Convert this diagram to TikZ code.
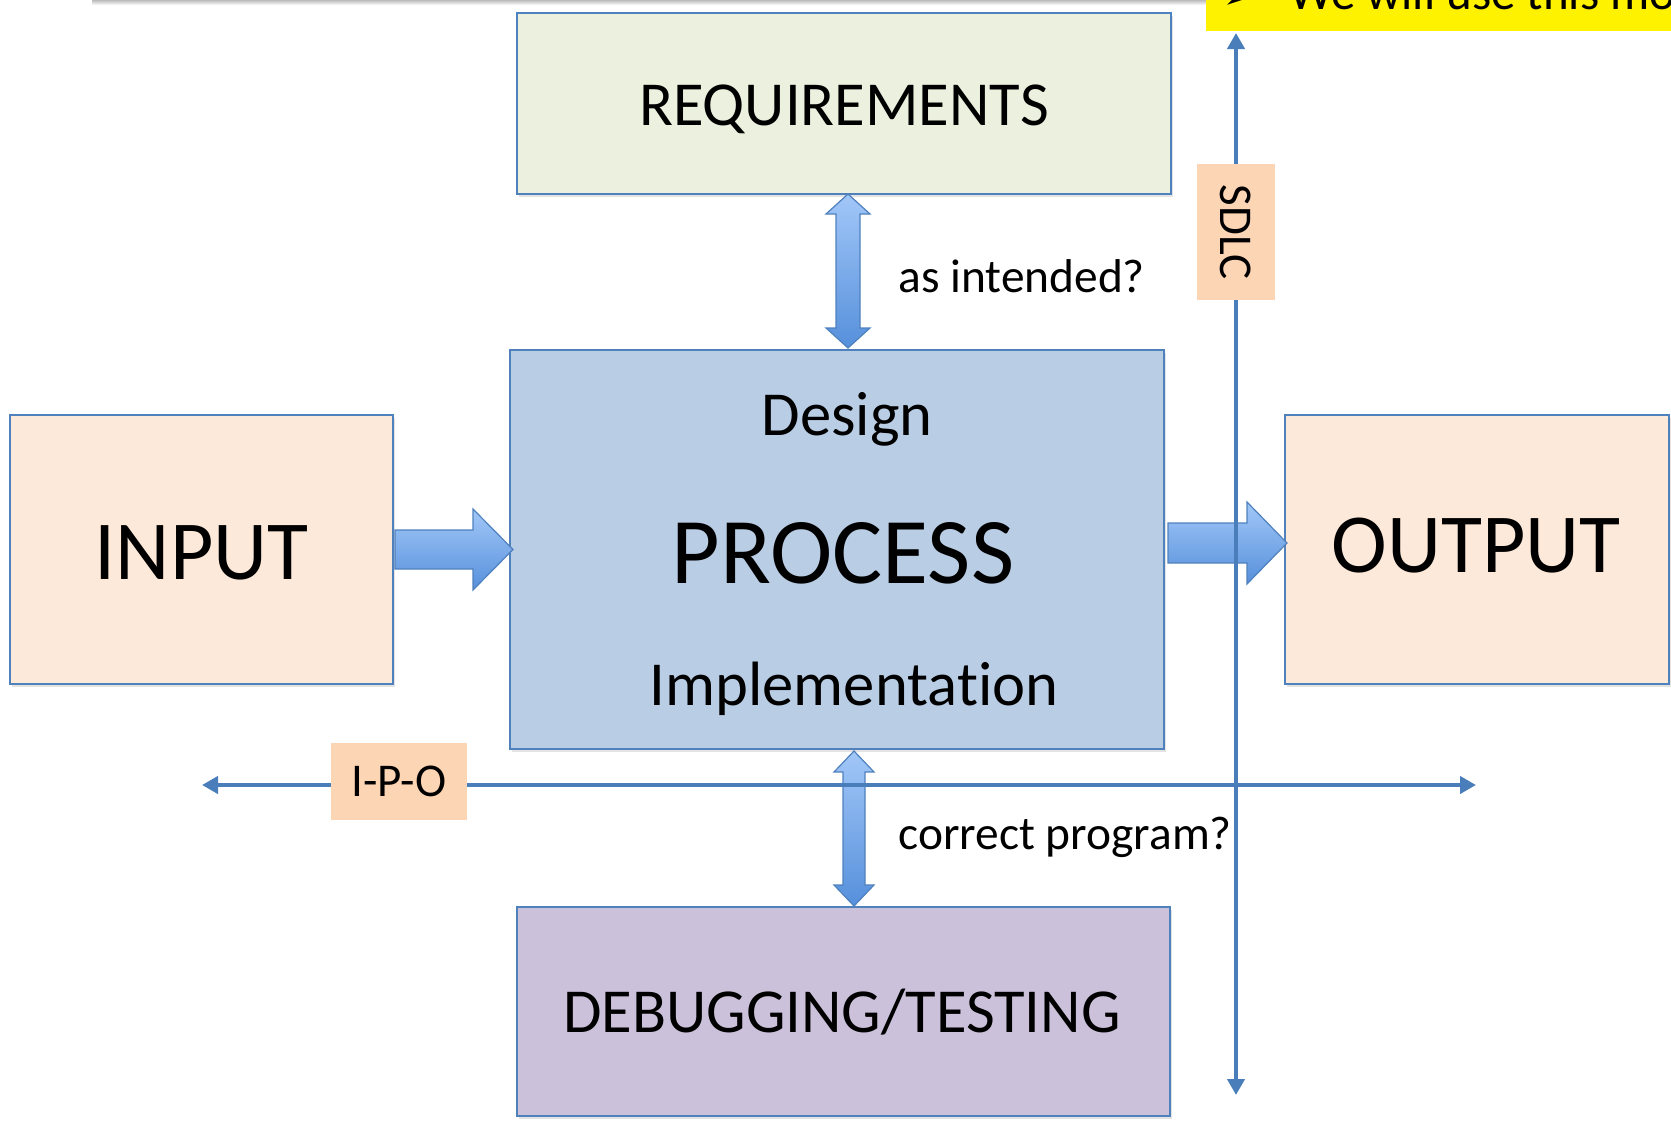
\documentclass[tikz,border=0pt]{standalone}
\usepackage{fontspec}
\setmainfont{Carlito}[Ligatures=NoCommon]
\newfontfamily\dejavu{DejaVu Sans}
\usetikzlibrary{arrows.meta,shadows}
\definecolor{edgeblue}{HTML}{4F81BD}
\definecolor{linkblue}{HTML}{4A7EBB}
\definecolor{reqfill}{HTML}{EBF1DE}
\definecolor{procfill}{HTML}{B9CDE5}
\definecolor{iofill}{HTML}{FDE9D9}
\definecolor{dbgfill}{HTML}{CCC1DA}
\definecolor{tagfill}{HTML}{FCD5B5}
\definecolor{arrtop}{HTML}{A2C7F8}
\definecolor{arrbot}{HTML}{5690DB}
\begin{document}
\begin{tikzpicture}[x=0.5pt,y=-0.5pt,
  box/.style={draw=edgeblue, line width=0.9pt, inner sep=0pt,
    drop shadow={opacity=0.22, shadow xshift=1.2pt, shadow yshift=-1.6pt}},
  tag/.style={fill=tagfill, inner sep=0pt, font=\fontsize{23.5}{28}\selectfont},
  blockarrow/.style={draw=edgeblue, line width=0.6pt, line join=miter, top color=arrtop, bottom color=arrbot},
  conn/.style={draw=linkblue, line width=2pt,
    {Triangle[length=8pt,width=8.5pt]}-{Triangle[length=8pt,width=8.5pt]}},
  txt/.style={anchor=base, inner sep=0pt},
  midfont/.style={font=\fontsize{31.3}{37}\selectfont},
  smallfont/.style={font=\fontsize{23.7}{28}\selectfont},
  iofont/.style={font=\fontsize{42}{50}\selectfont},
  procfont/.style={font=\fontsize{47}{56}\selectfont}]
\useasboundingbox (0,0) rectangle (1671,1125);

% cut-off slide elements at the top
\begin{scope}
  \clip (0,0) rectangle (1671,1125);
  \fill[top color=black!32, bottom color=white] (92,-1) rectangle (1206,5);
  \fill[yellow] (1206,-20) rectangle (1690,31);
  \node[anchor=base west, inner sep=0pt, font=\dejavu\fontsize{22}{26}\selectfont] (bul) at (1222,9) {➢};
  \node[anchor=base west, inner sep=0pt, font=\fontsize{24.5}{29}\selectfont] (ytxt) at (1289,9) {We will use this model};
\end{scope}

% boxes
\node[box, fill=reqfill, minimum width=327pt, minimum height=90.5pt] (req) at (844,103.5) {};
\node[box, fill=procfill, minimum width=327pt, minimum height=199.5pt] (proc) at (837,549.5) {};
\node[box, fill=iofill, minimum width=191.5pt, minimum height=134.5pt] (in) at (201.5,549.5) {};
\node[box, fill=iofill, minimum width=192pt, minimum height=134.5pt] (out) at (1477,549.5) {};
\node[box, fill=dbgfill, minimum width=326.5pt, minimum height=104.5pt] (dbg) at (843.5,1011.5) {};

% block arrows
\draw[blockarrow] (395,530) -- (473,530) -- (473,509) -- (513,549.5) -- (473,590) -- (473,569) -- (395,569) -- cycle;
\draw[blockarrow] (1168,523) -- (1247,523) -- (1247,502) -- (1287,543) -- (1247,584) -- (1247,563) -- (1168,563) -- cycle;
\draw[blockarrow] (848,194) -- (870,214) -- (860,214) -- (860,328) -- (870,328) -- (848,348)
  -- (826,328) -- (836,328) -- (836,214) -- (826,214) -- cycle;
\draw[blockarrow] (854,751) -- (874,772) -- (865,772) -- (865,885) -- (874,885) -- (854,906)
  -- (834,885) -- (843,885) -- (843,772) -- (834,772) -- cycle;

% axes
\coordinate (sdlcTop) at (1236,33);
\coordinate (sdlcBot) at (1236,1095);
\draw[conn] (sdlcBot) -- (sdlcTop);
\coordinate (ipoL) at (202,785);
\coordinate (ipoR) at (1476,785);
\draw[conn] (ipoL) -- (ipoR);

% tags
\node[tag, minimum width=68pt, minimum height=38.5pt] (ipo) at (399,781.5) {I-P-O};
\node[tag, rotate=-90, minimum width=68pt, minimum height=39pt] (sdlc) at (1236,232) {SDLC};

% texts
\node[txt, midfont] (reqtxt) at (844,125) {REQUIREMENTS};
\node[txt, midfont] (design) at (847,435) {Design};
\node[txt, procfont] (proctxt) at (843,583) {PROCESS};
\node[txt, midfont] (impl) at (854,705) {Implementat\kern0pt ion};
\node[txt, iofont] (intxt) at (201.5,579) {INPUT};
\node[txt, iofont] (outtxt) at (1476,572) {OUTPUT};
\node[txt, midfont] (dbgtxt) at (842,1032) {DEBUGGING/TESTING};
\node[txt, smallfont, anchor=base west] (asint) at (898,292) {as intended?};
\node[txt, smallfont, anchor=base west] (corr) at (898,849) {correct program?};
\end{tikzpicture}
\end{document}
